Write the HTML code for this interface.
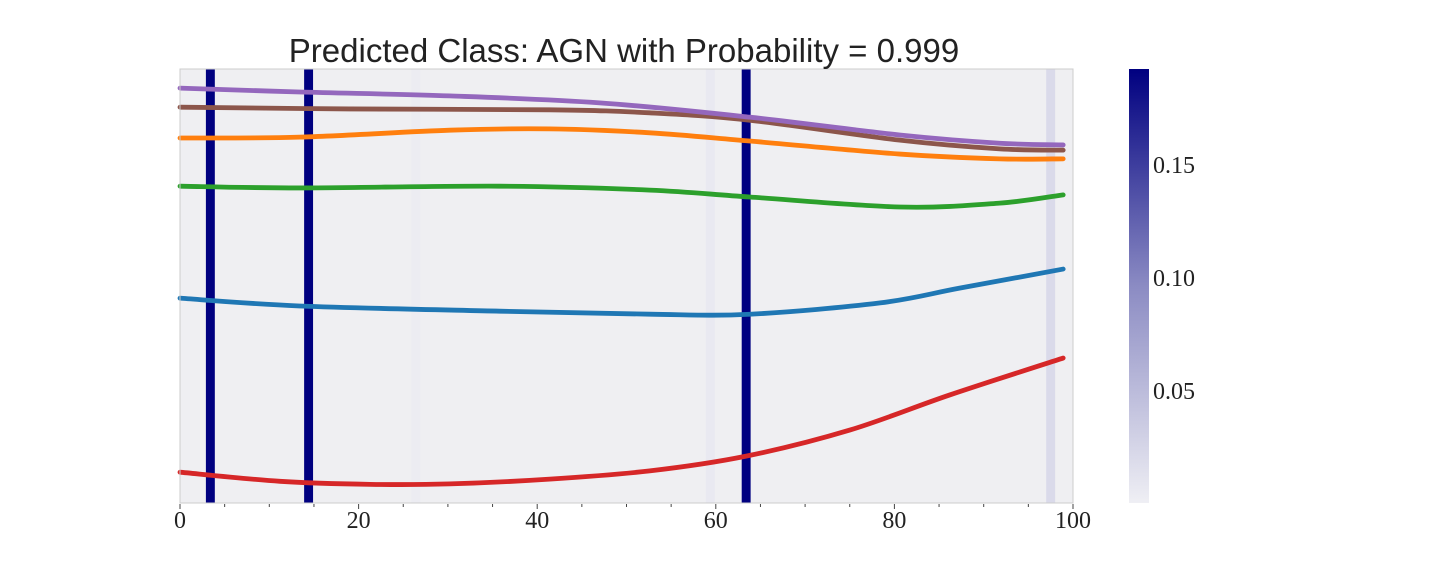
<!DOCTYPE html>
<html><head><meta charset="utf-8"><style>
body{margin:0;background:#fff;width:1440px;height:576px;overflow:hidden}
svg text{font-family:"Liberation Serif",serif;fill:#222}
</style></head><body>
<svg width="1440" height="576">
<defs><linearGradient id="cb" x1="0" y1="1" x2="0" y2="0">
<stop offset="0" stop-color="#efeff4"/><stop offset="0.5" stop-color="#8b8bc3"/><stop offset="1" stop-color="#000080"/></linearGradient></defs>
<rect x="180" y="69" width="893" height="434" fill="#efeff2"/>
<g id="cells"></g>
<g id="lines"></g>
<rect x="180" y="69" width="893" height="434" fill="none" stroke="#ccc" stroke-width="1"/>
<g id="xticks"></g>
<text x="624" y="62" text-anchor="middle" style="font-family:'Liberation Sans',sans-serif;font-size:33px">Predicted Class: AGN with Probability = 0.999</text>
<rect x="1129" y="69" width="20" height="434" fill="url(#cb)"/>
<g id="cbticks"></g>
</svg>
<script>
const cellStarts=[2.9,13.9,62.9,97.0,58.9,25.9];
const cellValues=[0.19,0.19,0.19,0.02,0.006,0.003];
const seriesX=[
[0,11.2,21.3,30.2,41.4,52.6,63.4,75.0,86.2,98.9],
[0,13.4,35.8,52.6,63.8,78.4,87.3,98.9],
[0,13.4,35.8,52.6,63.8,80.6,91.8,98.9],
[0,13.4,30.2,41.4,52.6,63.8,80.6,91.8,98.9],
[0,19.0,41.4,52.6,63.8,80.6,91.8,98.9],
[0,13.4,30.2,47.0,63.8,80.6,91.8,98.9]];
const seriesY=[
[7.1,5.0,4.3,4.4,5.5,7.4,10.8,16.8,24.9,33.4],
[47.2,45.4,44.2,43.5,43.5,46.1,49.5,53.9],
[73.0,72.6,73.0,72.1,70.5,68.2,69.1,71.0],
[84.1,84.3,85.9,86.2,85.3,83.4,80.4,79.3,79.3],
[91.2,90.8,90.6,89.9,88.2,83.6,81.6,81.3],
[95.6,94.7,93.8,92.2,88.9,84.8,82.9,82.5]];
const seriesColors=["#d62728","#1f77b4","#2ca02c","#ff7f0e","#8c564b","#9467bd"];
const seriesNames=["red","blue","green","orange","brown","purple"];
const xTicks=[0,20,40,60,80,100];
const cbTicks=[0.05,0.10,0.15];
const NS="http://www.w3.org/2000/svg";
const X=v=>180+v*8.93, Y=v=>503-v*4.34;
const CB=v=>503-v*2260, CMAX=0.19;
function mix(t){const a=[239,239,244],m=[139,139,195],b=[0,0,128];let c;
 if(t<0.5){const s=t/0.5;c=a.map((x,i)=>x+(m[i]-x)*s)}else{const s=(t-0.5)/0.5;c=m.map((x,i)=>x+(b[i]-x)*s)}
 return`rgb(${c.map(Math.round).join(",")})`}
const cg=document.getElementById("cells");
cellStarts.forEach((s,i)=>{const r=document.createElementNS(NS,"rect");
 r.setAttribute("x",X(s));r.setAttribute("y",69);r.setAttribute("width",8.93);r.setAttribute("height",434);
 r.setAttribute("fill",mix(Math.min(1,cellValues[i]/CMAX)));
 
 
 cg.appendChild(r)});
const lg=document.getElementById("lines");
seriesX.forEach((xs,k)=>{const p=xs.map((x,i)=>[X(x),Y(seriesY[k][i])]);
 let d=`M${p[0][0]},${p[0][1]}`;
 for(let i=0;i<p.length-1;i++){const p0=p[Math.max(0,i-1)],p1=p[i],p2=p[i+1],p3=p[Math.min(p.length-1,i+2)];
  d+=` C${p1[0]+(p2[0]-p0[0])/6},${p1[1]+(p2[1]-p0[1])/6} ${p2[0]-(p3[0]-p1[0])/6},${p2[1]-(p3[1]-p1[1])/6} ${p2[0]},${p2[1]}`}
 const pa=document.createElementNS(NS,"path");pa.setAttribute("d",d);pa.setAttribute("fill","none");
 pa.setAttribute("stroke",seriesColors[k]);pa.setAttribute("stroke-width",4.8);pa.setAttribute("stroke-linecap","round");
 
 
 lg.appendChild(pa)});
const xt=document.getElementById("xticks");
for(let v=0;v<=100;v+=5){const l=document.createElementNS(NS,"line");l.setAttribute("x1",X(v));l.setAttribute("x2",X(v));
 l.setAttribute("y1",504);l.setAttribute("y2",v%20==0?509:507);l.setAttribute("stroke","#444");xt.appendChild(l)}
xTicks.forEach(v=>{const t=document.createElementNS(NS,"text");t.setAttribute("x",X(v));t.setAttribute("y",528);
 t.setAttribute("text-anchor","middle");t.setAttribute("font-size","24");t.textContent=v;
 
 
 xt.appendChild(t)});
const cbt=document.getElementById("cbticks");
cbTicks.forEach(v=>{const t=document.createElementNS(NS,"text");t.setAttribute("x",1153);t.setAttribute("y",CB(v)+9);
 t.setAttribute("font-size","24");t.textContent=v.toFixed(2);
 
 
 cbt.appendChild(t)});
</script>
</body></html>
